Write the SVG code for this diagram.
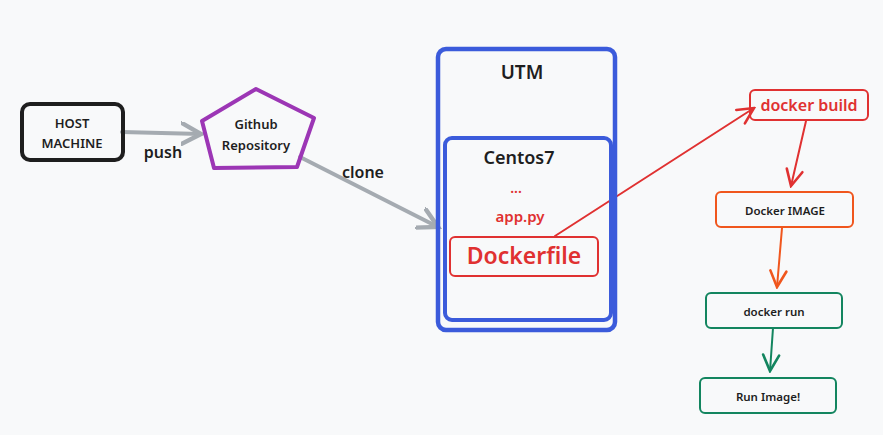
<svg xmlns="http://www.w3.org/2000/svg" width="883" height="435" viewBox="0 0 883 435">
<style>
text{font-family:"Noto Sans","Liberation Sans",sans-serif;text-anchor:middle;dominant-baseline:central}
.k{fill:#1e1e1e;font-weight:600}
.r{fill:#e03131;font-weight:600}
.box{fill:none;stroke-linejoin:round}
.conn{fill:none;stroke-linecap:round;stroke-linejoin:round}
</style>
<defs>
<marker id="ag" markerWidth="6" markerHeight="6" refX="5" refY="3" orient="auto" markerUnits="strokeWidth"><path d="M0,0.3 L5,3 L0,5.7" fill="none" stroke="#a5abb1" stroke-width="1.1" stroke-linecap="round"/></marker>
<marker id="ar" markerWidth="10" markerHeight="10" refX="9" refY="5" orient="auto" markerUnits="strokeWidth"><path d="M1,1 L9,5 L1,9" fill="none" stroke="#e03131" stroke-width="1.3" stroke-linecap="round"/></marker>
<marker id="ao" markerWidth="10" markerHeight="10" refX="9" refY="5" orient="auto" markerUnits="strokeWidth"><path d="M1,1 L9,5 L1,9" fill="none" stroke="#f0561d" stroke-width="1.3" stroke-linecap="round"/></marker>
<marker id="an" markerWidth="10" markerHeight="10" refX="9" refY="5" orient="auto" markerUnits="strokeWidth"><path d="M1,1 L9,5 L1,9" fill="none" stroke="#13855f" stroke-width="1.3" stroke-linecap="round"/></marker>
</defs>
<rect width="883" height="435" fill="#f8f9fa"/>

<g id="connectors">
<path class="conn" d="M122,132 L201,134" stroke="#a5abb1" stroke-width="4" marker-end="url(#ag)"/>
<path class="conn" d="M300,157 L438,227" stroke="#a5abb1" stroke-width="4" marker-end="url(#ag)"/>
<path class="conn" d="M555,236 L754,108" stroke="#e03131" stroke-width="2" marker-end="url(#ar)"/>
<path class="conn" d="M806,121 L791,186" stroke="#e03131" stroke-width="2" marker-end="url(#ar)"/>
<path class="conn" d="M782,228 L777,287" stroke="#f0561d" stroke-width="2" marker-end="url(#ao)"/>
<path class="conn" d="M773,328 L770,371" stroke="#13855f" stroke-width="2" marker-end="url(#an)"/>
<text class="k" x="163" y="152" font-size="16">push</text>
<text class="k" x="363" y="172" font-size="16">clone</text>
</g>

<g id="host">
<rect class="box" x="22" y="104" width="101" height="56" rx="8" stroke="#1e1e1e" stroke-width="4" fill="#ffffff"/>
<text class="k" x="72" y="123" font-size="13">HOST</text>
<text class="k" x="72" y="143" font-size="13">MACHINE</text>
</g>

<g id="github">
<path class="box" d="M256,89 L314,118 L297,167 L214,168 L202,121 Z" stroke="#9c36b5" stroke-width="4" fill="#ffffff"/>
<text class="k" x="256" y="124" font-size="13">Github</text>
<text class="k" x="256" y="145" font-size="13">Repository</text>
</g>

<g id="utm">
<rect class="box" x="438" y="49" width="177" height="281" rx="8" stroke="#3b5bdb" stroke-width="4.5"/>
<text class="k" x="522" y="72" font-size="19">UTM</text>
</g>

<g id="centos7">
<rect class="box" x="445" y="138" width="166" height="182" rx="7" stroke="#3b5bdb" stroke-width="4"/>
<text class="k" x="519" y="157" font-size="18">Centos7</text>
<text class="r" x="516" y="187" font-size="14">...</text>
<text class="r" x="520" y="216" font-size="15">app.py</text>
</g>

<g id="dockerfile">
<rect class="box" x="450" y="237" width="148" height="39" rx="5" stroke="#e03131" stroke-width="2" fill="#ffffff"/>
<text class="r" x="524" y="255" font-size="23">Dockerfile</text>
</g>

<g id="docker-build">
<rect class="box" x="750" y="90" width="118" height="30" rx="5" stroke="#e03131" stroke-width="2" fill="#ffffff"/>
<text class="r" x="809" y="105" font-size="16">docker build</text>
</g>

<g id="docker-image">
<rect class="box" x="716" y="192" width="137" height="35" rx="5" stroke="#f0561d" stroke-width="2" fill="#ffffff"/>
<text class="k" x="785" y="210" font-size="11.5">Docker IMAGE</text>
</g>

<g id="docker-run">
<rect class="box" x="706" y="293" width="136" height="35" rx="5" stroke="#13855f" stroke-width="2" fill="#ffffff"/>
<text class="k" x="774" y="311" font-size="11.5">docker run</text>
</g>

<g id="run-image">
<rect class="box" x="700" y="378" width="136" height="35" rx="5" stroke="#13855f" stroke-width="2" fill="#ffffff"/>
<text class="k" x="768" y="396" font-size="11.5">Run Image!</text>
</g>
</svg>
